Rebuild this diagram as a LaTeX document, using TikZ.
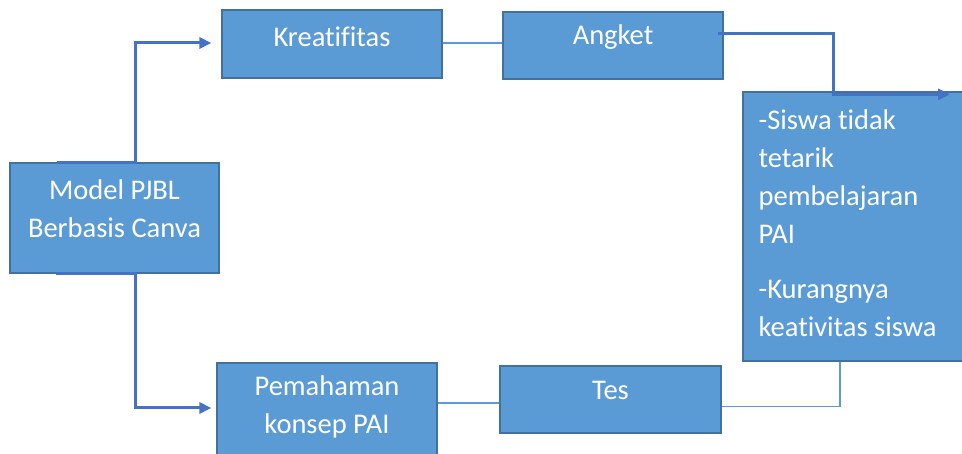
\documentclass[tikz,border=0pt]{standalone}
\usepackage{fontspec}
\setmainfont{Carlito}[Ligatures=NoCommon]
\usetikzlibrary{arrows.meta,calc,positioning}
\definecolor{boxfill}{HTML}{5B9BD5}
\definecolor{boxline}{HTML}{41719C}
\definecolor{linkblue}{HTML}{4472C4}
\begin{document}
\begin{tikzpicture}[x=1pt, y=1pt, line join=miter,
		box/.style={draw=boxline, line width=1.2pt, fill=boxfill, inner sep=0pt},
		txt/.style={text=white, inner sep=0pt, font=\fontsize{28.5}{38}\selectfont},
		link/.style={draw=linkblue, line width=3pt, -{Triangle[length=12pt,width=11pt]}},
		plainlink/.style={draw=boxfill, line width=1.6pt}]
		
		\useasboundingbox (0,0) rectangle (962,454);
		\clip (0,0) rectangle (962,454);
		
		% boxes
		\node[box, minimum width=209, minimum height=110] (model) at (114.5,236) {};
		\node[box, minimum width=220, minimum height=68] (kreat) at (332,410) {};
		\node[box, minimum width=220, minimum height=67] (angket) at (613,408.5) {};
		\node[box, minimum width=220, minimum height=110] (pema) at (327,36) {};
		\node[box, minimum width=221, minimum height=67] (tes) at (610.5,54.5) {};
		\node[box, minimum width=232, minimum height=269] (masalah) at (859,227.5) {};
		
		% texts
		\node[txt, align=center] (modelT) at ([yshift=9]model.center) {Model PJBL\\Berbasis Canva};
		\node[txt] (kreatT) at ([yshift=7]kreat.center) {Kreatifitas};
		\node[txt] (angketT) at ([yshift=8.5]angket.center) {Angket};
		\node[txt, align=center] (pemaT) at ([yshift=11]pema.center) {Pemahaman\\konsep PAI};
		\node[txt] (tesT) at ([yshift=9.5]tes.center) {Tes};
		\node[txt, align=left, anchor=west] (masalahT) at ([xshift=16,yshift=3]masalah.west)
			{-Siswa tidak\\tetarik\\pembelajaran\\PAI\\[17pt]-Kurangnya\\keativitas siswa};
		
		% upper branch
		\draw[link] ([xshift=-58]model.north) -- ([xshift=21]model.north) |- ([xshift=-10,yshift=1]kreat.west);
		\draw[plainlink] ([yshift=1]kreat.east) -- ([yshift=1]kreat.east -| angket.west);
		\draw[link] ([xshift=-6,yshift=12]angket.east) -| ([xshift=-26,yshift=-3]masalah.north) -- ([xshift=91,yshift=-3]masalah.north);
		
		% lower branch
		\draw[link] ([xshift=-59]model.south) -- ([xshift=21]model.south) |- ([xshift=-5,yshift=10]pema.west);
		\draw[plainlink] ([yshift=-3.5]tes.west) -- ([yshift=-3.5]tes.west -| pema.east);
		\draw[plainlink] ([yshift=-7]tes.east) -| ([xshift=-19]masalah.south);
		
	\end{tikzpicture}
\end{document}
